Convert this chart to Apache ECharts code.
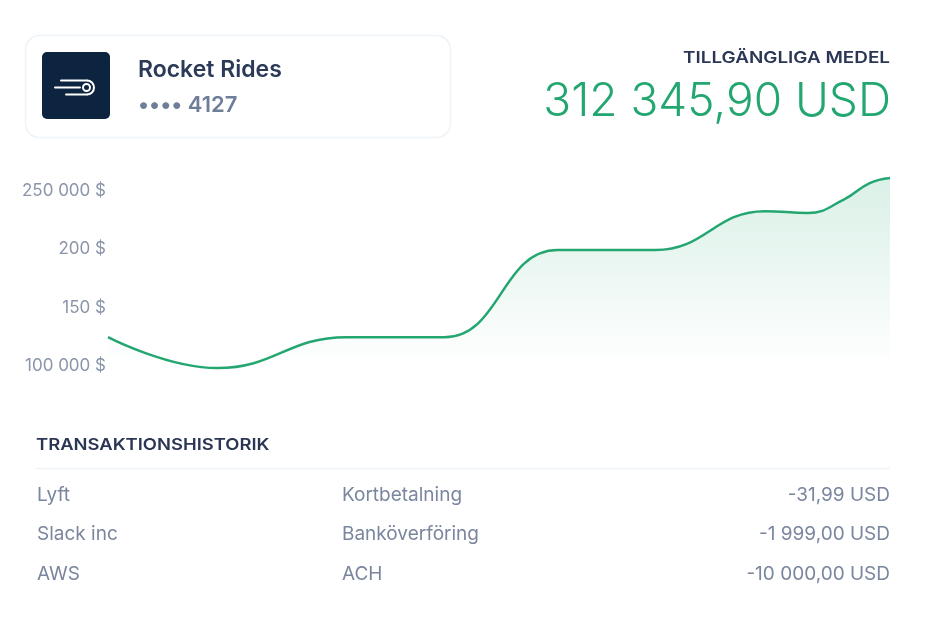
<!DOCTYPE html>
<html>
<head>
<meta charset="utf-8">
<script src="https://cdn.jsdelivr.net/npm/echarts@6/dist/echarts.min.js"></script>
<style>
html,body{margin:0;padding:0;background:#fff;}
#c{width:940px;height:618px;}
</style>
</head>
<body>
<div id="c"></div>
<script>
// ---- data ----
var balanceX = [0, 14, 30.5, 43, 57.5, 70, 84, 89.5, 94.2, 97.4, 100];
var balanceY = [123000, 96500, 123000, 123000, 197700, 197700, 231000, 229400, 241400, 255100, 259500];
var yTicks = [100000, 150000, 200000, 250000];
var yTickLabels = ['100 000 $', '150 $', '200 $', '250 000 $'];
var accountName = 'Rocket Rides';
var accountMask = '•••• 4127';
var balanceTitle = 'TILLGÄNGLIGA MEDEL';
var balanceText = '312 345,90 USD';
var historyTitle = 'TRANSAKTIONSHISTORIK';
var txNames = ['Lyft', 'Slack inc', 'AWS'];
var txTypes = ['Kortbetalning', 'Banköverföring', 'ACH'];
var txAmounts = ['-31,99 USD', '-1 999,00 USD', '-10 000,00 USD'];

var FONT = 'Inter, "Noto Sans", sans-serif';
var seriesData = balanceX.map(function (x, i) { return [x, balanceY[i]]; });

var graphics = [
  // card
  { type: 'rect', shape: { x: 25.5, y: 35.5, width: 425, height: 102, r: 14 },
    style: { fill: '#fff', stroke: '#eef3f8', lineWidth: 1.5 } },
  { type: 'rect', shape: { x: 42, y: 52, width: 68, height: 67, r: 5 },
    style: { fill: '#0c2440' } },
  // icon glyph
  { type: 'line', shape: { x1: 61, y1: 80.5, x2: 87, y2: 80.5 },
    style: { stroke: '#fff', lineWidth: 2, lineCap: 'round' } },
  { type: 'line', shape: { x1: 66, y1: 94.5, x2: 87, y2: 94.5 },
    style: { stroke: '#fff', lineWidth: 2, lineCap: 'round' } },
  { type: 'arc', shape: { cx: 87, cy: 87.5, r: 7, startAngle: -Math.PI / 2, endAngle: Math.PI / 2, clockwise: true },
    style: { fill: null, stroke: '#fff', lineWidth: 2 } },
  { type: 'line', shape: { x1: 55, y1: 87.5, x2: 80, y2: 87.5 },
    style: { stroke: '#fff', lineWidth: 2, lineCap: 'round' } },
  { type: 'circle', shape: { cx: 86.5, cy: 87.5, r: 3.5 },
    style: { fill: null, stroke: '#fff', lineWidth: 2 } },
  { type: 'text', x: 138, y: 70, style: { text: accountName, font: '600 23px ' + FONT, fill: '#2b3a58', textVerticalAlign: 'middle' } },
  { type: 'text', x: 138, y: 105, style: { text: accountMask, font: '600 22px ' + FONT, fill: '#6f7e98', textVerticalAlign: 'middle' } },
  // balance
  { type: 'text', x: 890, y: 58, scaleX: 1.18, style: { text: balanceTitle, font: '600 16px ' + FONT, fill: '#2a3654', textAlign: 'right', textVerticalAlign: 'middle' } },
  { type: 'text', x: 891, y: 102, style: { text: balanceText, font: '300 46px ' + FONT, fill: '#24a671', textAlign: 'right', textVerticalAlign: 'middle' } },
  // history
  { type: 'text', x: 36, y: 445, scaleX: 1.15, style: { text: historyTitle, font: '600 16px ' + FONT, fill: '#2a3654', textVerticalAlign: 'middle' } },
  { type: 'line', shape: { x1: 36, y1: 468.5, x2: 890, y2: 468.5 }, style: { stroke: '#eef3f8', lineWidth: 1.5 } }
];
var rowY = [495, 534, 574];
for (var i = 0; i < txNames.length; i++) {
  graphics.push({ type: 'text', x: 37, y: rowY[i], style: { text: txNames[i], font: '400 19px ' + FONT, fill: '#7a869e', textVerticalAlign: 'middle' } });
  graphics.push({ type: 'text', x: 342, y: rowY[i], style: { text: txTypes[i], font: '400 19px ' + FONT, fill: '#7a869e', textVerticalAlign: 'middle' } });
  graphics.push({ type: 'text', x: 890, y: rowY[i], style: { text: txAmounts[i], font: '400 19px ' + FONT, fill: '#7a869e', textAlign: 'right', textVerticalAlign: 'middle' } });
}

var chart = echarts.init(document.getElementById('c'), null, { renderer: 'canvas' });
chart.setOption({
  animation: false,
  backgroundColor: '#fff',
  grid: { left: 108, right: 50, top: 189, height: 175, containLabel: false },
  xAxis: { type: 'value', min: 0, max: 100, show: false },
  yAxis: {
    type: 'value', min: yTicks[0], max: yTicks[yTicks.length - 1], interval: 50000,
    axisLine: { show: false }, axisTick: { show: false }, splitLine: { show: false },
    axisLabel: {
      margin: 2, color: '#8a95aa', fontSize: 17, fontFamily: FONT,
      rich: { a: { color: '#8a95aa', fontSize: 17, fontFamily: FONT, padding: [4, 0, 0, 0] } },
      formatter: function (v) { var k = yTicks.indexOf(v); return k >= 0 ? '{a|' + yTickLabels[k] + '}' : ''; }
    }
  },
  series: [{
    type: 'line', data: seriesData, smooth: 0.45, symbol: 'none', clip: false,
    lineStyle: { color: '#24a671', width: 2.5 },
    areaStyle: {
      origin: 'start',
      color: new echarts.graphic.LinearGradient(0, 0, 0, 1, [
        { offset: 0, color: 'rgba(36,166,113,0.24)' },
        { offset: 1, color: 'rgba(36,166,113,0)' }
      ])
    }
  }],
  graphic: graphics
});
</script>
</body>
</html>
